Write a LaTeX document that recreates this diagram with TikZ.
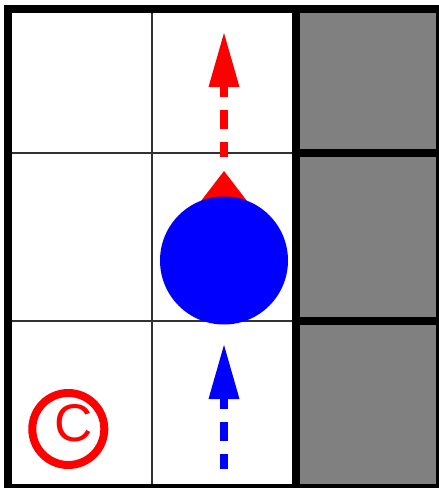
\documentclass[tikz,border=0pt]{standalone}
\usepackage{fontspec}
\setmainfont{Liberation Sans}
\usepackage{tikz}
\usetikzlibrary{arrows.meta, positioning, calc}
\definecolor{wallgray}{RGB}{128, 128, 128}
\definecolor{gridgray}{RGB}{50, 50, 50}

\begin{document}
\begin{tikzpicture}[x=1pt,y=-1pt,
	thinline/.style={gridgray,line width=1.6pt},
	wallcell/.style={fill=wallgray,draw=black,line width=8pt},
	moveline/.style={line width=8pt,dash pattern=on 19pt off 13pt,dash phase=4pt,
		-{Triangle[length=54pt,width=31pt,line width=0pt]}}]
	\useasboundingbox (0,0) rectangle (439,488);
	
	% grid
	\draw[thinline] (152,9) -- (152,488);
	\draw[thinline] (8,153) -- (296,153);
	\draw[thinline] (8,321) -- (296,321);
	
	% walls
	\draw[wallcell] (296,9) rectangle (440,153);
	\draw[wallcell] (296,153) rectangle (440,321);
	\draw[wallcell] (296,321) rectangle (440,488);
	
	\draw[line width=8pt] (8,9) rectangle (440,488);
	
	% robot
	\fill[red] (224,171) -- (171,240) -- (277,240) -- cycle;
	\node[circle,fill=blue,inner sep=0pt,minimum size=128pt] (robot) at (224,260.5) {};
	
	\coordinate (nexttail) at (224,157);
	\coordinate (nexthead) at (224,33);
	\coordinate (lasttail) at (224,469);
	\coordinate (lasthead) at (224,345);
	\draw[moveline,red] (nexttail) -- (nexthead);
	\draw[moveline,blue] (lasttail) -- (lasthead);
	
	% goal
	\node[circle,draw=red,line width=8pt,inner sep=0pt,minimum size=72pt] (goal) at (68.3,429) {};
	\node[red,font=\fontsize{53}{53}\selectfont,inner sep=0pt] (goaltext) at (73.7,423) {C};
\end{tikzpicture}
\end{document}
